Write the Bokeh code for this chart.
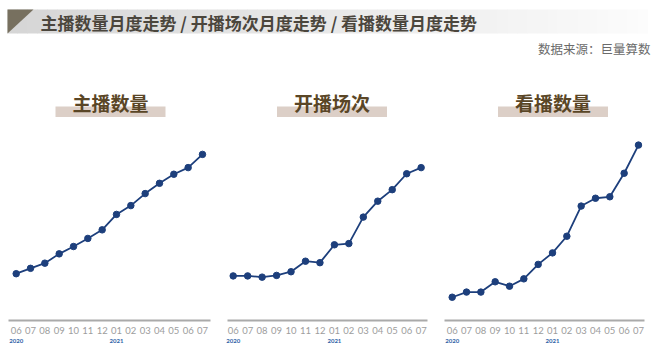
from bokeh.plotting import figure
from bokeh.layouts import column, row
from bokeh.models import Range1d, LinearAxis, FixedTicker, Label, BoxAnnotation, ColumnDataSource
from bokeh.core.properties import value
from bokeh.embed import file_html
from bokeh.resources import INLINE

# ---------------- data ----------------
months = ["06", "07", "08", "09", "10", "11", "12", "01", "02", "03", "04", "05", "06", "07"]
year_ticks = [0, 7]
year_labels = ["2020", "2021"]
title_text = "主播数量月度走势 / 开播场次月度走势 / 看播数量月度走势"
source_text = "数据来源：巨量算数"
panel_titles = ["主播数量", "开播场次", "看播数量"]
anchors = [19.1, 21.3, 23.4, 27.2, 30.2, 33.5, 37.0, 43.3, 46.9, 51.8, 56.0, 59.7, 62.4, 67.8]
sessions = [18.2, 18.2, 17.7, 18.4, 19.9, 24.2, 23.6, 30.9, 31.4, 42.2, 48.7, 53.4, 59.9, 62.4]
viewers = [9.5, 11.6, 11.6, 15.8, 14.0, 17.0, 22.9, 27.6, 34.4, 46.7, 49.9, 50.5, 60.1, 71.6]

CJK = "Noto Sans CJK SC"
LINE = "#1d3f7c"

# ---------------- header ----------------
hdr = figure(width=660, height=75, x_range=Range1d(0, 660), y_range=Range1d(75, 0),
             output_backend="svg", toolbar_location=None, min_border=0)
hdr.axis.visible = False
hdr.grid.visible = False
hdr.outline_line_color = None
hdr.background_fill_color = "white"

n = 64
x0, x1 = 7, 647
lefts, rights, cols = [], [], []
for i in range(n):
    a = x0 + (x1 - x0) * i / n
    b = x0 + (x1 - x0) * (i + 1) / n
    t = i / (n - 1)
    c = int(214 + (252 - 214) * t)
    lefts.append(a); rights.append(b + 0.5); cols.append("#%02x%02x%02x" % (c, c, c))
hdr.quad(left=lefts, right=rights, top=[9] * n, bottom=[33] * n, fill_color=cols, line_color=None)
hdr.patch(x=[7, 33, 7], y=[9, 9, 33], fill_color="#77705f", line_color=None)
hdr.text(x=[40], y=[21.5], text=[title_text], text_font=value(CJK), text_font_size="17px",
         text_font_style="bold", text_color="#4b463d", text_baseline="middle", text_align="left")
hdr.text(x=[650], y=[48], text=[source_text], text_font=value(CJK), text_font_size="12.5px",
         text_color="#6b6b6b", text_baseline="middle", text_align="right")

# ---------------- panels ----------------
# (page_left, width, border_left, border_right, idx_left, idx_right, heading center)
specs = [
    (0, 213, 8, 3, -0.537, 13.56, 110),
    (213, 222, 14, 8, -0.394, 13.44, 331.5),
    (435, 225, 9, 16, -0.537, 13.42, 552.5),
]
series = [anchors, sessions, viewers]

panels = []
for k, (pl, w, bl, br, il, ir, hc) in enumerate(specs):
    fl = pl + bl
    fr = pl + w - br
    p = figure(width=w, height=282, x_range=Range1d(il, ir), y_range=Range1d(0, 100),
               output_backend="svg", toolbar_location=None,
               min_border_left=bl, min_border_right=br, min_border_top=0, min_border_bottom=37,
               y_axis_location=None)
    p.extra_x_ranges = {"px": Range1d(fl, fr)}
    p.extra_y_ranges = {"px": Range1d(320, 75)}
    p.grid.visible = False
    p.outline_line_color = None

    ax = p.xaxis[0]
    ax.ticker = FixedTicker(ticks=list(range(len(months))))
    ax.major_label_overrides = {i: m for i, m in enumerate(months)}
    ax.axis_line_color = "#aaaaaa"
    ax.axis_line_width = 2
    ax.major_tick_line_color = None
    ax.major_tick_out = 0
    ax.major_tick_in = 0
    ax.minor_tick_line_color = None
    ax.minor_tick_out = 0
    ax.major_label_text_font = "Lato"
    ax.major_label_text_font_size = "9.5px"
    ax.major_label_text_color = "#9d9d9d"
    ax.major_label_standoff = 6

    yax = LinearAxis(ticker=FixedTicker(ticks=year_ticks),
                     major_label_overrides={t: l for t, l in zip(year_ticks, year_labels)})
    yax.axis_line_color = None
    yax.major_tick_line_color = None
    yax.major_tick_out = 0
    yax.major_tick_in = 0
    yax.minor_tick_line_color = None
    yax.minor_tick_out = 0
    yax.major_label_text_font = "Lato"
    yax.major_label_text_font_size = "6px"
    yax.major_label_text_font_style = "bold"
    yax.major_label_text_color = "#2f62a6"
    yax.major_label_standoff = 2
    p.add_layout(yax, "below")

    p.add_layout(BoxAnnotation(left=hc - 55, right=hc + 55, top=106, bottom=116.5,
                               x_range_name="px", y_range_name="px",
                               fill_color="#dccfc7", fill_alpha=1, line_color=None, level="underlay"))
    p.add_layout(Label(x=hc, y=102, text=panel_titles[k], x_range_name="px", y_range_name="px",
                       text_font=CJK, text_font_size="19px", text_font_style="bold",
                       text_color="#5a4626", text_align="center", text_baseline="middle"))

    src = ColumnDataSource(dict(x=list(range(len(months))), y=series[k]))
    p.line("x", "y", source=src, line_color=LINE, line_width=1.8)
    p.scatter("x", "y", source=src, size=6.5, fill_color=LINE, line_color=LINE)
    panels.append(p)

layout = column(hdr, row(*panels, spacing=0), spacing=0)
open("out.html", "w").write(file_html(layout, INLINE))
